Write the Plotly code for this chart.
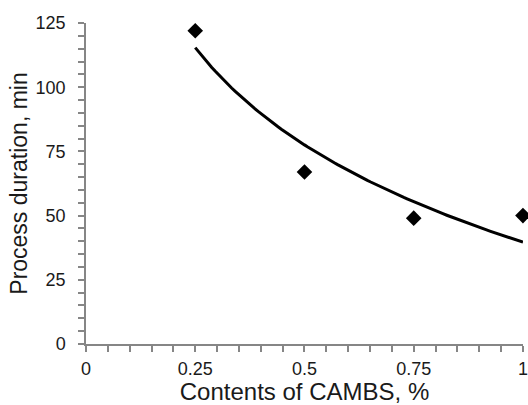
import numpy as np
import plotly.graph_objects as go

# Data
cambs_content = [0.25, 0.5, 0.75, 1.0]
process_duration = [122, 67, 49, 50]

x_ticks = [0, 0.25, 0.5, 0.75, 1]
x_tick_labels = ["0", "0.25", "0.5", "0.75", "1"]
y_ticks = [0, 25, 50, 75, 100, 125]
y_tick_labels = ["0", "25", "50", "75", "100", "125"]

# Logarithmic trendline fitted to the data (least squares)
b, a = np.polyfit(np.log(cambs_content), process_duration, 1)
trend_x = np.linspace(min(cambs_content), max(cambs_content), 100)
trend_y = a + b * np.log(trend_x)

fig = go.Figure()
fig.add_trace(go.Scatter(
    x=trend_x, y=trend_y, mode="lines",
    line=dict(color="black", width=3),
    hoverinfo="skip", showlegend=False, cliponaxis=False,
))
fig.add_trace(go.Scatter(
    x=cambs_content, y=process_duration, mode="markers",
    marker=dict(symbol="diamond", size=12, color="black"),
    showlegend=False, cliponaxis=False,
))

axis_color = "#868686"
font_family = "Liberation Sans, Arial, sans-serif"

fig.update_layout(
    width=528, height=405,
    margin=dict(l=86, r=5, t=23, b=61, autoexpand=False),
    paper_bgcolor="white", plot_bgcolor="white",
    font=dict(family=font_family, color="#1a1a1a", size=18),
)
fig.update_xaxes(
    range=[0, 1.0001], tickvals=x_ticks, ticktext=x_tick_labels,
    showgrid=False, zeroline=False,
    showline=True, linecolor=axis_color, linewidth=1.5,
    ticks="outside", ticklen=6, tickcolor=axis_color, tickwidth=1.5,
    minor=dict(dtick=0.05, ticks="outside", ticklen=6, tickcolor=axis_color, tickwidth=1.5, showgrid=False),
    tickfont=dict(size=18),
    ticklabeloverflow="allow",
    ticklabelstandoff=2,
    title=dict(text="Contents of CAMBS, %", font=dict(size=24), standoff=8),
    automargin=False,
)
fig.update_yaxes(
    range=[0, 125], tickvals=y_ticks, ticktext=y_tick_labels,
    showgrid=False, zeroline=False,
    showline=True, linecolor=axis_color, linewidth=1.5,
    ticks="outside", ticklen=6, tickcolor=axis_color, tickwidth=1.5,
    minor=dict(dtick=5, ticks="outside", ticklen=6, tickcolor=axis_color, tickwidth=1.5, showgrid=False),
    tickfont=dict(size=18),
    ticklabelstandoff=9,
    title=dict(text="Process duration, min", font=dict(size=23), standoff=2),
    automargin=False,
)

fig.write_html("out.html")
